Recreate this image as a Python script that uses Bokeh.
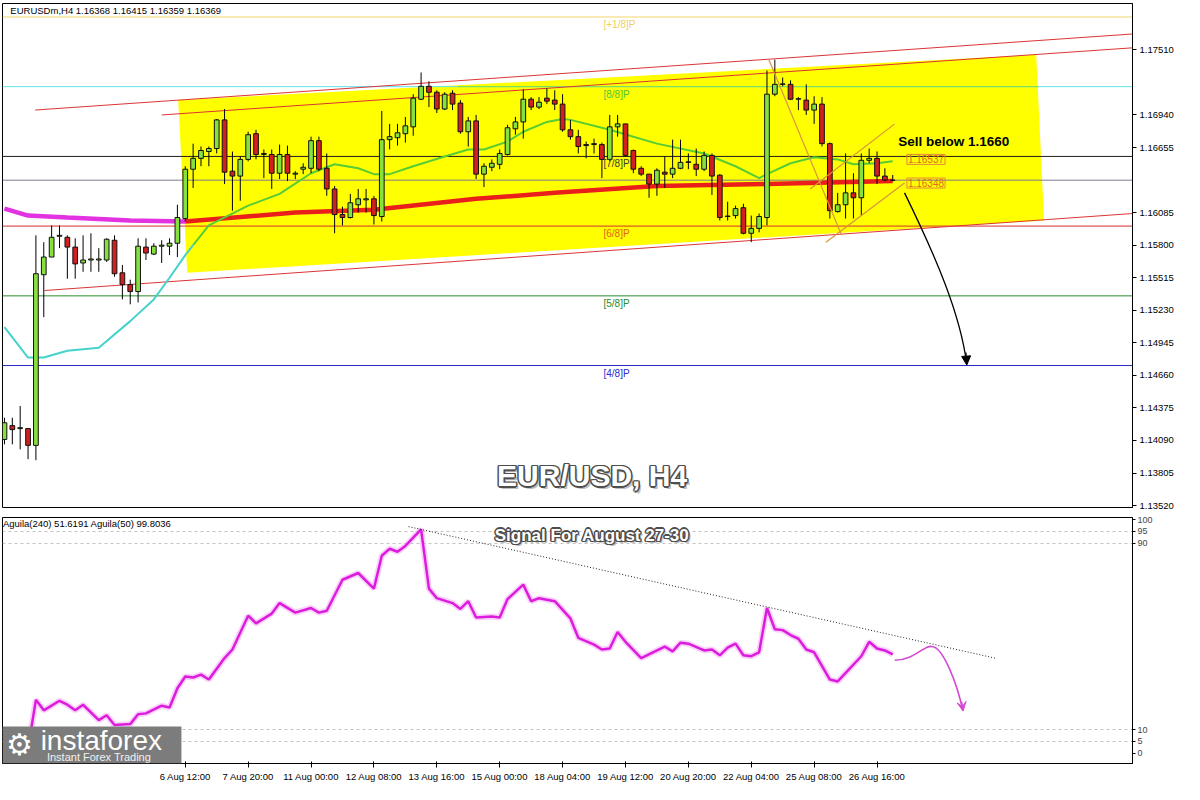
from bokeh.plotting import figure
from bokeh.layouts import column
from bokeh.models import Range1d, FixedTicker, NumeralTickFormatter, Label, Arrow, NormalHead, VeeHead
from bokeh.core.properties import value
from bokeh.embed import file_html
from bokeh.resources import INLINE

FONT = "Liberation Sans"

# ---------------- price data (H4 candles) ----------------
opens = [
    1.14099, 1.14220, 1.14194, 1.14194, 1.14047, 1.15541, 1.15696, 1.15878, 1.15869, 1.15783,
    1.15644, 1.15670, 1.15670, 1.15670, 1.15843, 1.15558, 1.15455, 1.15394, 1.15783, 1.15722,
    1.15791, 1.15791, 1.15817, 1.16033, 1.16465, 1.16560, 1.16620, 1.16646, 1.16897, 1.16448,
    1.16405, 1.16551, 1.16776, 1.16594, 1.16594, 1.16430, 1.16594, 1.16422, 1.16465, 1.16473,
    1.16715, 1.16473, 1.16292, 1.16068, 1.16042, 1.16154, 1.16197, 1.16206, 1.16051, 1.16724,
    1.16741, 1.16776, 1.16836, 1.17078, 1.17191, 1.17139, 1.16992, 1.17130, 1.17044, 1.16793,
    1.16888, 1.16422, 1.16482, 1.16508, 1.16594, 1.16819, 1.16879, 1.17078, 1.17009, 1.17087,
    1.17070, 1.17035, 1.16810, 1.16750, 1.16681, 1.16681, 1.16681, 1.16551, 1.16836, 1.16862,
    1.16629, 1.16473, 1.16422, 1.16335, 1.16439, 1.16422, 1.16473, 1.16525, 1.16508, 1.16465,
    1.16586, 1.16413, 1.16051, 1.16059, 1.16128, 1.15904, 1.15947, 1.16042, 1.17122, 1.17208,
    1.17208, 1.17078, 1.17070, 1.16983, 1.17035, 1.16689, 1.16094, 1.16154, 1.16258, 1.16215,
    1.16543, 1.16560, 1.16405, 1.16368]
highs = [
    1.14289, 1.14289, 1.14392, 1.14194, 1.15886, 1.15826, 1.15973, 1.15973, 1.15886, 1.15860,
    1.15886, 1.15904, 1.15774, 1.15860, 1.15886, 1.15627, 1.15498, 1.15860, 1.15860, 1.15817,
    1.15843, 1.15860, 1.16154, 1.16491, 1.16689, 1.16664, 1.16664, 1.16905, 1.16992, 1.16620,
    1.16577, 1.16793, 1.16810, 1.16638, 1.16638, 1.16681, 1.16672, 1.16448, 1.16517, 1.16750,
    1.16750, 1.16603, 1.16318, 1.16137, 1.16249, 1.16292, 1.16292, 1.16232, 1.16975, 1.16862,
    1.16862, 1.16923, 1.17122, 1.17312, 1.17234, 1.17156, 1.17139, 1.17156, 1.17070, 1.16923,
    1.16940, 1.16517, 1.16551, 1.16638, 1.16854, 1.16923, 1.17165, 1.17096, 1.17096, 1.17173,
    1.17156, 1.17122, 1.16897, 1.16810, 1.16707, 1.16733, 1.16698, 1.16940, 1.16940, 1.16862,
    1.16638, 1.16491, 1.16422, 1.16473, 1.16577, 1.16724, 1.16724, 1.16603, 1.16646, 1.16620,
    1.16603, 1.16422, 1.16180, 1.16146, 1.16163, 1.16059, 1.16077, 1.17329, 1.17424, 1.17268,
    1.17243, 1.17096, 1.17208, 1.17104, 1.17096, 1.16698, 1.16258, 1.16603, 1.16430, 1.16603,
    1.16646, 1.16620, 1.16473, 1.16415]
lows = [
    1.14056, 1.14056, 1.14012, 1.13926, 1.13917, 1.15170, 1.15696, 1.15774, 1.15506, 1.15506,
    1.15567, 1.15567, 1.15567, 1.15653, 1.15524, 1.15325, 1.15282, 1.15299, 1.15670, 1.15713,
    1.15644, 1.15713, 1.15696, 1.16007, 1.16301, 1.16491, 1.16491, 1.16603, 1.16335, 1.16102,
    1.16189, 1.16534, 1.16551, 1.16387, 1.16292, 1.16379, 1.16361, 1.16379, 1.16422, 1.16430,
    1.16448, 1.16232, 1.15904, 1.15973, 1.16033, 1.16085, 1.16085, 1.15981, 1.16007, 1.16638,
    1.16672, 1.16698, 1.16758, 1.17070, 1.17009, 1.16957, 1.16983, 1.16983, 1.16776, 1.16664,
    1.16379, 1.16309, 1.16448, 1.16465, 1.16586, 1.16767, 1.16733, 1.16983, 1.16992, 1.17035,
    1.16983, 1.16793, 1.16724, 1.16603, 1.16560, 1.16603, 1.16387, 1.16534, 1.16750, 1.16577,
    1.16430, 1.16405, 1.16215, 1.16232, 1.16301, 1.16387, 1.16465, 1.16465, 1.16405, 1.16448,
    1.16240, 1.16016, 1.16016, 1.16033, 1.15895, 1.15826, 1.15912, 1.15973, 1.17104, 1.17191,
    1.17070, 1.16983, 1.16940, 1.16862, 1.16664, 1.16033, 1.16085, 1.16033, 1.16033, 1.16059,
    1.16517, 1.16335, 1.16361, 1.16359]
closes = [
    1.14245, 1.14185, 1.14202, 1.14047, 1.15550, 1.15696, 1.15869, 1.15886, 1.15783, 1.15636,
    1.15670, 1.15679, 1.15679, 1.15852, 1.15550, 1.15455, 1.15394, 1.15791, 1.15731, 1.15791,
    1.15800, 1.15817, 1.16042, 1.16465, 1.16560, 1.16629, 1.16646, 1.16897, 1.16439, 1.16405,
    1.16551, 1.16767, 1.16594, 1.16603, 1.16430, 1.16594, 1.16430, 1.16430, 1.16482, 1.16715,
    1.16465, 1.16292, 1.16068, 1.16042, 1.16171, 1.16206, 1.16206, 1.16059, 1.16724, 1.16750,
    1.16784, 1.16845, 1.17087, 1.17191, 1.17139, 1.16992, 1.17122, 1.17035, 1.16793, 1.16888,
    1.16422, 1.16491, 1.16517, 1.16603, 1.16828, 1.16879, 1.17078, 1.17009, 1.17052, 1.17061,
    1.17035, 1.16810, 1.16750, 1.16664, 1.16672, 1.16689, 1.16551, 1.16836, 1.16862, 1.16586,
    1.16465, 1.16422, 1.16335, 1.16456, 1.16422, 1.16473, 1.16525, 1.16530, 1.16465, 1.16586,
    1.16405, 1.16042, 1.16055, 1.16120, 1.15904, 1.15947, 1.16051, 1.17122, 1.17208, 1.17212,
    1.17078, 1.17082, 1.16983, 1.17035, 1.16689, 1.16102, 1.16154, 1.16258, 1.16215, 1.16543,
    1.16560, 1.16405, 1.16370, 1.16369]
bars = list(range(len(opens)))

time_tick_bars = [23, 31, 39, 47, 55, 63, 71, 79, 87, 95, 103, 111]
time_tick_labels = ["6 Aug 12:00", "7 Aug 20:00", "11 Aug 00:00", "12 Aug 08:00", "13 Aug 16:00",
                    "15 Aug 00:00", "18 Aug 04:00", "19 Aug 12:00", "20 Aug 20:00",
                    "22 Aug 04:00", "25 Aug 08:00", "26 Aug 16:00"]

price_ticks = [1.13520, 1.13805, 1.14090, 1.14375, 1.14660, 1.14945, 1.15230, 1.15515,
               1.15800, 1.16085, 1.16655, 1.16940, 1.17510]

# slow moving average (magenta outside the box, red inside)
ma_slow_bars = [0, 3, 8, 16, 23, 37, 47, 60, 70, 83, 97, 113]
ma_slow_vals = [1.16120, 1.16059, 1.16042, 1.16016, 1.16007, 1.16085, 1.16111, 1.16206,
                1.16258, 1.16318, 1.16335, 1.16361]
# fast moving average (cyan outside the box, green inside)
ma_fast_bars = [0, 3, 5, 8, 12, 16, 19, 21, 23, 24, 26, 31, 35, 39, 42, 45, 47, 49, 52, 56,
                59, 61, 64, 66, 69, 71, 72, 77, 83, 89, 93, 96, 97, 100, 103, 106, 108, 111, 113]
ma_fast_vals = [1.15083, 1.14816, 1.14816, 1.14876, 1.14902, 1.15135, 1.15325, 1.15515, 1.15713,
                1.15800, 1.15973, 1.16146, 1.16249, 1.16430, 1.16508, 1.16473, 1.16422, 1.16422,
                1.16491, 1.16577, 1.16638, 1.16638, 1.16707, 1.16793, 1.16879, 1.16905, 1.16897,
                1.16810, 1.16689, 1.16603, 1.16491, 1.16387, 1.16422, 1.16517, 1.16569, 1.16551,
                1.16508, 1.16517, 1.16534]

# Murrey levels
level_prices = [1.17798, 1.17188, 1.16577, 1.16369, 1.15967, 1.15356, 1.14746]
level_names = ["[+1/8]P", "[8/8]P", "[7/8]P", "", "[6/8]P", "[5/8]P", "[4/8]P"]
level_colors = ["#f2d66a", "#5fe3ea", "#1e1e1e", "#7c7c8e", "#d63030", "#2a8a2a", "#2828c8"]
name_colors = ["#f0cf60", "#52c43a", "#3a3a3a", "#000000", "#e2621c", "#2a8a2a", "#2a2ad0"]
box_bg = ["#f2e03c", "#3fe2ea", "#000000", "#000000", "#e41c1c", "#1c9c1c", "#1c1ce4"]
box_fg = ["#fff6c8", "#eaffff", "#ffffff", "#ffffff", "#ffffff", "#e8ffe8", "#ffffff"]

# highlighted channel area (yellow)
box_bars = [22.1, 131.25, 132.25, 23.25]
box_prices = [1.17070, 1.17467, 1.16016, 1.15558]

# red channel lines
chan_x0 = [3.9, 20.0, 5.1]
chan_y0 = [1.16983, 1.16940, 1.15403]
chan_x1 = [143.5, 143.5, 143.5]
chan_y1 = [1.17649, 1.17528, 1.16077]

# orange analyst lines
or_x0 = [97.25, 102.5, 104.5]
or_y0 = [1.17424, 1.16292, 1.15826]
or_x1 = [106.5, 113.25, 114.5]
or_y1 = [1.15886, 1.16862, 1.16344]

# ---------------- indicator data ----------------
agu_bars = [0, 2, 3, 4, 5, 7, 8, 9, 10, 12, 13, 14, 16, 17, 18, 20, 21, 22, 23, 24, 25, 26, 28, 29,
            31, 32, 34, 35, 37, 39, 40, 41, 43, 45, 47, 48, 49, 50, 51, 53, 54, 55, 57, 58, 59, 60,
            62, 63, 64, 66, 67, 68, 70, 72, 73, 75, 76, 77, 78, 79, 81, 84, 85, 86, 87, 89, 90, 91,
            92, 93, 94, 95, 96, 97, 98, 99, 100, 101, 102, 103, 105, 106, 109, 110, 111, 112, 113]
agu_vals = [4.1, 3.3, 2.1, 22.8, 18.3, 22.4, 20.7, 18.3, 20.7, 14.1, 16.2, 12.0, 12.4, 16.6, 17.0,
            20.3, 19.5, 27.8, 32.8, 32.4, 33.6, 31.5, 40.7, 44.4, 58.9, 55.6, 59.8, 64.3, 60.2,
            62.2, 60.2, 61.0, 74.3, 77.2, 70.5, 84.6, 87.6, 86.3, 88.8, 95.9, 70.5, 66.4, 64.3,
            61.8, 65.1, 58.1, 58.5, 58.1, 66.0, 72.2, 65.1, 66.4, 65.1, 57.7, 49.4, 46.5, 44.4,
            44.8, 51.9, 47.7, 40.7, 45.6, 43.6, 47.3, 46.9, 44.0, 44.4, 41.9, 45.2, 46.9, 41.9,
            41.5, 43.2, 62.2, 53.1, 52.7, 50.6, 49.0, 44.4, 43.2, 31.5, 30.7, 41.5, 47.7, 44.8,
            44.0, 42.3]
ind_ticks = [0, 5, 10, 90, 95, 100]
ind_grid = [5, 10, 90, 95]
trend_bars = [51.4, 126.0]
trend_vals = [97.1, 40.7]

X0, X1 = -0.25, 143.5
PY0, PY1 = 1.13503, 1.17916

# ================= price panel =================
p = figure(frame_width=1130, frame_height=504, x_range=Range1d(X0, X1), y_range=Range1d(PY0, PY1),
           output_backend="svg", toolbar_location=None, x_axis_location=None,
           y_axis_location="right", min_border_left=2, min_border_right=50,
           min_border_top=3, min_border_bottom=7, outline_line_color="black",
           background_fill_color="white", border_fill_color="white")
p.xgrid.visible = False
p.ygrid.visible = False
ya = p.yaxis[0]
ya.ticker = FixedTicker(ticks=price_ticks, minor_ticks=[])
ya.formatter = NumeralTickFormatter(format="0.00000")
ya.major_label_text_font = FONT
ya.major_label_text_font_size = "9.5px"
ya.major_label_text_color = "black"
ya.major_tick_out = 4
ya.major_tick_in = 0
ya.minor_tick_out = 0
ya.minor_tick_in = 0
ya.major_label_standoff = 3
ya.axis_line_color = "black"

p.patch(box_bars, box_prices, fill_color="#ffff00", line_color=None)

n = len(level_prices)
p.segment(x0=[X0] * n, y0=level_prices, x1=[X1] * n, y1=level_prices,
          line_color=level_colors, line_width=1)
p.segment(x0=[57.7], y0=[level_prices[1]], x1=[131.6], y1=[level_prices[1]],
          line_color="#7edc52", line_width=1)

p.segment(x0=chan_x0, y0=chan_y0, x1=chan_x1, y1=chan_y1, line_color="#dc3434", line_width=1)

k = ma_slow_bars.index(23)
p.line(ma_slow_bars[:k + 1], ma_slow_vals[:k + 1], line_color="#e232e2", line_width=4.5)
p.line(ma_slow_bars[k:], ma_slow_vals[k:], line_color="#ea1e1a", line_width=4.5)
j = ma_fast_bars.index(24)
p.line(ma_fast_bars[:j + 1], ma_fast_vals[:j + 1], line_color="#45d2cc", line_width=2)
p.line(ma_fast_bars[j:], ma_fast_vals[j:], line_color="#58cc34", line_width=2)

body_top = [max(o, c) for o, c in zip(opens, closes)]
body_bot = [min(o, c) for o, c in zip(opens, closes)]
body_col = ["#86e03e" if c >= o else "#d21f1f" for o, c in zip(opens, closes)]
p.segment(x0=bars, y0=lows, x1=bars, y1=highs, line_color="black", line_width=1)
p.vbar(x=bars, width=0.6, top=body_top, bottom=body_bot, fill_color=body_col,
       line_color="#111111", line_width=1)

p.segment(x0=or_x0, y0=or_y0, x1=or_x1, y1=or_y1, line_color="#d9943c", line_width=1.2)

# black forecast arrow
p.bezier(x0=[114.5], y0=[1.16258], x1=[122.4], y1=[1.14764], cx0=[118.5], cy0=[1.15696],
         cx1=[121.6], cy1=[1.15196], line_color="black", line_width=1.3)
p.add_layout(Arrow(end=NormalHead(size=9, fill_color="black", line_color="black"),
                   x_start=122.3, y_start=1.14860, x_end=122.42, y_end=1.14750,
                   line_color="black", line_width=1.3))

# Murrey names
for nm, pr, col in zip(level_names, level_prices, name_colors):
    if nm:
        p.text(x=[76.2], y=[pr - 0.00018], text=[nm], text_color=col, text_font=value(FONT),
               text_font_size="10px", text_align="left", text_baseline="top")

# right-axis price boxes
for pr, bg, fg in zip(level_prices, box_bg, box_fg):
    p.add_layout(Label(x=X1, y=pr, x_offset=6, text=f"{pr:.5f}", text_font=FONT,
                       text_font_size="9.5px", text_color=fg, text_align="left",
                       text_baseline="middle", background_fill_color=bg, padding=1))

# in-chart price tags
for pr, txt in zip([1.16551, 1.16344], ["1.16537", "1.16348"]):
    p.add_layout(Label(x=114.8, y=pr, text=txt, text_font=FONT, text_font_size="10px",
                       text_color="#e26a1e", text_align="left", text_baseline="middle",
                       border_line_color="#e08a3a", border_line_width=1, padding=1))

p.text(x=[113.7], y=[1.16707], text=["Sell below 1.1660"], text_color="black",
       text_font=value(FONT), text_font_style="bold", text_font_size="13.5px",
       text_align="left", text_baseline="middle")

p.text(x=[0.75], y=[1.17900], text=["EURUSDm,H4  1.16368 1.16415 1.16359 1.16369"],
       text_color="black", text_font=value(FONT), text_font_size="9.5px",
       text_align="left", text_baseline="top")


def outlined(fig, x, y, txt, size):
    fig.text(x=[x], y=[y], text=[txt], x_offset=2.5, y_offset=2.5, text_color="#8a8a8a",
             text_alpha=0.55, text_font=value(FONT), text_font_style="bold",
             text_font_size=size, text_align="center", text_baseline="middle")
    for dx, dy in [(-1.5, 0), (1.5, 0), (0, -1.5), (0, 1.5), (-1.1, -1.1), (1.1, 1.1),
                   (-1.1, 1.1), (1.1, -1.1)]:
        fig.text(x=[x], y=[y], text=[txt], x_offset=dx, y_offset=dy, text_color="#4e4e4e",
                 text_font=value(FONT), text_font_style="bold", text_font_size=size,
                 text_align="center", text_baseline="middle")
    fig.text(x=[x], y=[y], text=[txt], text_color="white", text_font=value(FONT),
             text_font_style="bold", text_font_size=size, text_align="center",
             text_baseline="middle")


outlined(p, 74.75, 1.13780, "EUR/USD, H4", "30px")

# ================= indicator panel =================
p2 = figure(frame_width=1130, frame_height=246, x_range=p.x_range, y_range=Range1d(-4.5, 101),
            output_backend="svg", toolbar_location=None, y_axis_location="right",
            min_border_left=2, min_border_right=50, min_border_top=3, min_border_bottom=2,
            outline_line_color="black", background_fill_color="white", border_fill_color="white")
p2.xgrid.visible = False
p2.ygrid[0].ticker = FixedTicker(ticks=ind_grid, minor_ticks=[])
p2.ygrid[0].grid_line_color = "#c4c4c4"
p2.ygrid[0].grid_line_dash = "3 3"
ya2 = p2.yaxis[0]
ya2.ticker = FixedTicker(ticks=ind_ticks, minor_ticks=[])
ya2.major_label_text_font = FONT
ya2.major_label_text_font_size = "9px"
ya2.major_tick_out = 3
ya2.major_tick_in = 0
ya2.major_label_standoff = 2
ya2.axis_line_color = "black"
xa = p2.xaxis[0]
xa.ticker = FixedTicker(ticks=time_tick_bars, minor_ticks=[])
xa.major_label_overrides = {b: lb for b, lb in zip(time_tick_bars, time_tick_labels)}
xa.major_label_text_align = "left"
xa.major_label_text_font = FONT
xa.major_label_text_font_size = "9.5px"
xa.major_label_text_color = "black"
xa.major_tick_out = 4
xa.major_tick_in = 2
xa.minor_tick_out = 0
xa.minor_tick_in = 0
xa.major_label_standoff = 3
xa.axis_line_color = "black"

p2.line(agu_bars, agu_vals, line_color="#f07cf0", line_width=6, line_alpha=0.35)
p2.line(agu_bars, agu_vals, line_color="#dc1cdc", line_width=2.5)
p2.line(trend_bars, trend_vals, line_color="#222222", line_width=1, line_dash="1 2")

# magenta forecast
p2.bezier(x0=[113.25], y0=[39.8], x1=[118.1], y1=[45.6], cx0=[116.0], cy0=[40.0],
          cx1=[117.0], cy1=[46.8], line_color="#d44ad4", line_width=1.6)
p2.bezier(x0=[118.1], y0=[45.6], x1=[121.9], y1=[18.3], cx0=[119.4], cy0=[45.0],
          cx1=[121.2], cy1=[30.0], line_color="#d44ad4", line_width=1.6)
p2.add_layout(Arrow(end=VeeHead(size=9, fill_color="#d44ad4", line_color="#d44ad4"),
                    x_start=121.75, y_start=22.0, x_end=121.95, y_end=18.0,
                    line_color="#d44ad4", line_width=1.6))

p2.text(x=[-0.2], y=[100.6], text=["Aguila(240) 51.6191  Aguila(50) 99.8036"],
        text_color="black", text_font=value(FONT), text_font_size="9.5px",
        text_align="left", text_baseline="top")
outlined(p2, 74.75, 93.4, "Signal For August 27-30", "17px")

# instaforex logo (bottom-left of the indicator panel)
p2.add_layout(Label(x=X0, y=-4.5, text="MMMMMMM", text_font=FONT, text_font_size="30px",
                    text_color="#7c7c7c", text_align="left", text_baseline="bottom",
                    background_fill_color="#7c7c7c", background_fill_alpha=1.0, padding=2))
p2.add_layout(Label(x=0.2, y=3.6, text="⚙", text_font="DejaVu Sans", text_font_size="30px",
                    text_color="white", text_align="left", text_baseline="middle"))
p2.add_layout(Label(x=4.6, y=5.4, text="instaforex", text_font=FONT, text_font_size="28px",
                    text_color="white", text_align="left", text_baseline="middle"))
p2.add_layout(Label(x=5.4, y=-1.6, text="Instant Forex Trading", text_font=FONT,
                    text_font_size="11px", text_color="#f2f2f2", text_align="left",
                    text_baseline="middle"))

layout = column(p, p2, spacing=0)
open("out.html", "w").write(file_html(layout, INLINE))
